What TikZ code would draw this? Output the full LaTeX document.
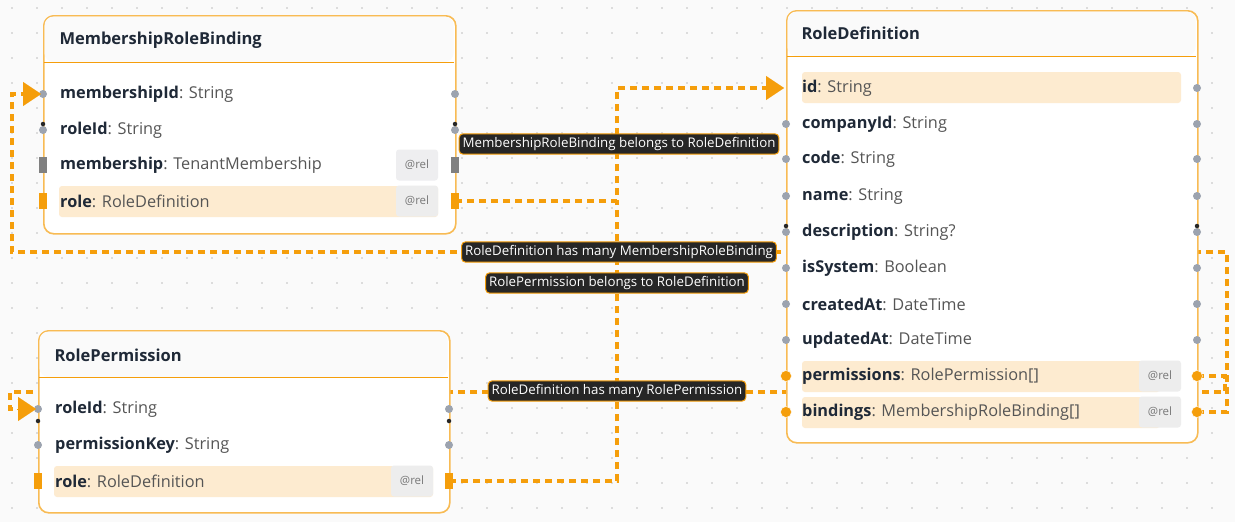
\documentclass[tikz,border=0pt]{standalone}
\usepackage{fontspec}
\setmainfont{Open Sans}
\usetikzlibrary{arrows.meta}
\definecolor{org}{HTML}{F59E0B}
\definecolor{hl}{HTML}{FDEBD0}
\definecolor{relbg}{HTML}{EEEEF0}
\definecolor{port}{HTML}{9CA3AF}
\definecolor{txt}{HTML}{1F2937}
\definecolor{typ}{HTML}{555555}
\definecolor{lab}{HTML}{262626}
\tikzset{
 x=1pt,y=-1pt,
 box/.style={draw=org!70,line width=1.6pt,rounded corners=10pt,fill=white},
 hdr/.style={font=\fontsize{16.5}{16}\selectfont\bfseries,text=txt,anchor=west},
 fld/.style={font=\fontsize{16.3}{16}\selectfont,text=typ,anchor=west,inner sep=0pt},
 rel/.style={fill=relbg,rounded corners=3pt,minimum width=42pt,minimum height=31pt,font=\fontsize{11.5}{11}\selectfont,text=typ!80},
 hlrow/.style={fill=hl,rounded corners=3pt},
 pd/.style={circle,fill=port,inner sep=0pt,minimum size=8pt},
 po/.style={circle,fill=org,draw=white,inner sep=0pt,minimum size=11pt},
 pdk/.style={circle,fill=black!85,inner sep=0pt,minimum size=4.5pt},
 pr/.style={fill=gray,inner sep=0pt,minimum width=8pt,minimum height=16pt},
 prO/.style={fill=org,inner sep=0pt,minimum width=8pt,minimum height=16pt},
 edge/.style={draw=org,line width=3.4pt,dash pattern=on 7pt off 5pt},
 arr/.style={-{Triangle[length=18pt,width=24pt]}},
 lbl/.style={fill=lab,draw=org,line width=1pt,rounded corners=4pt,text=white,font=\fontsize{13.3}{13}\selectfont,inner sep=3.5pt}
}
\newcommand{\fl}[2]{\textbf{\color{txt}#1}: #2}
\begin{document}
\begin{tikzpicture}
\fill[black!2] (0,0) rectangle (1235,522);
\useasboundingbox (0,0) rectangle (1235,522);
\foreach \i in {0,...,49}{\foreach \j in {0,...,21}{\fill[black!25] (\i*25+12,\j*25+8) circle (0.9pt);}}
% coordinates
\coordinate (ja) at (617,88);
\coordinate (jb) at (617,201);
\coordinate (c1) at (1227,412);
\coordinate (c2) at (1227,252);
\coordinate (c3) at (12,252);
\coordinate (c4) at (12,94);
\coordinate (d1) at (1225,376);
\coordinate (d2) at (1225,392);
\coordinate (d3) at (10,392);
\coordinate (d4) at (10,409);
\coordinate (e1) at (617,481);
% edges (under boxes)
\draw[edge] (1197,412) -- (c1) -- (c2) -- (c3) -- (c4) -- (25,94);
\draw[edge] (1197,376) -- (d1) -- (d2) -- (d3) -- (d4) -- (20,409);
\draw[edge] (455,201) -- (jb) -- (ja) -- (770,88);
\draw[edge] (449,481) -- (e1) -- (617,201);
% boxes
\node[box,minimum width=412pt,minimum height=218pt,anchor=north west] (mrb) at (43,15) {};
\node[box,minimum width=411pt,minimum height=432pt,anchor=north west] (rd) at (786,10) {};
\node[box,minimum width=411pt,minimum height=182pt,anchor=north west] (rp) at (38,330) {};
\fill[black!2,rounded corners=9pt] (44.5,16.5) -- (453.5,16.5) -- (453.5,62) -- (44.5,62) -- cycle;
\fill[black!2,rounded corners=9pt] (787.5,11.5) -- (1195.5,11.5) -- (1195.5,56) -- (787.5,56) -- cycle;
\fill[black!2,rounded corners=9pt] (39.5,331.5) -- (447.5,331.5) -- (447.5,377) -- (39.5,377) -- cycle;
\draw[org,line width=1pt] (44,62) -- (454,62);
\draw[org,line width=1pt] (787,56) -- (1196,56);
\draw[org,line width=1pt] (39,377) -- (448,377);
\node[hdr] (h1) at (56,40) {MembershipRoleBinding};
\node[hdr] (h2) at (798,33) {RoleDefinition};
\node[hdr] (h3) at (51,355) {RolePermission};
% MRB rows
\fill[hlrow] (59,186) rectangle (438,217);
\node[rel] (r1) at (417,165) {@rel};
\node[rel,fill=black!7] (r2) at (417,201) {@rel};
\node[fld] (m1) at (60,94) {\fl{membershipId}{String}};
\node[fld] (m2) at (60,130) {\fl{roleId}{String}};
\node[fld] (m3) at (60,165) {\fl{membership}{TenantMembership}};
\node[fld] (m4) at (60,201) {\fl{role}{RoleDefinition}};
\foreach \y in {94,130}{\node[pd] at (43,\y) {};\node[pd] at (455,\y) {};}
\node[pdk] at (43,124) {};\node[pdk] at (455,124) {};
\node[pr] at (43,165) {};\node[pr] at (455,165) {};
\node[prO] at (43,201) {};\node[prO] at (455,201) {};
% RD rows
\fill[hlrow] (802,72) rectangle (1181,103);
\fill[hlrow] (802,361) rectangle (1160,392);
\fill[hlrow] (802,397) rectangle (1160,428);
\node[rel,fill=black!7] (r3) at (1160,376) {@rel};
\node[rel,fill=black!7] (r4) at (1160,412) {@rel};
\node[fld] (f1) at (802,88) {\fl{id}{String}};
\node[fld] (f2) at (802,124) {\fl{companyId}{String}};
\node[fld] (f3) at (802,159) {\fl{code}{String}};
\node[fld] (f4) at (802,196) {\fl{name}{String}};
\node[fld] (f5) at (802,232) {\fl{description}{String?}};
\node[fld] (f6) at (802,268) {\fl{isSystem}{Boolean}};
\node[fld] (f7) at (802,304) {\fl{createdAt}{DateTime}};
\node[fld] (f8) at (802,340) {\fl{updatedAt}{DateTime}};
\node[fld] (f9) at (802,376) {\fl{permissions}{RolePermission[]}};
\node[fld] (f10) at (802,412) {\fl{bindings}{MembershipRoleBinding[]}};
\foreach \y in {88,124,159,196,232,268,304,340}{\node[pd] at (1197,\y) {};}
\foreach \y in {124,159,196,232,268,304,340}{\node[pd] at (786,\y) {};}
\node[pdk] at (786,226) {};\node[pdk] at (1197,226) {};
\node[po] at (786,376) {};\node[po] at (786,412) {};
\node[po] at (1197,376) {};\node[po] at (1197,412) {};
% RP rows
\fill[hlrow] (54,466) rectangle (433,497);
\node[rel,fill=black!7] (r5) at (412,481) {@rel};
\node[fld] (p1) at (55,409) {\fl{roleId}{String}};
\node[fld] (p2) at (55,445) {\fl{permissionKey}{String}};
\node[fld] (p3) at (55,481) {\fl{role}{RoleDefinition}};
\foreach \y in {409,445}{\node[pd] at (38,\y) {};\node[pd] at (449,\y) {};}
\node[pdk] at (38,421) {};\node[pdk] at (449,421) {};
\node[prO] at (38,481) {};\node[prO] at (449,481) {};
% arrowheads
\draw[org,arr,line width=0.1pt] (22,94) -- (41,94);
\draw[org,arr,line width=0.1pt] (767,88) -- (784,88);
\draw[org,arr,line width=0.1pt] (17,409) -- (36,409);
% labels
\node[lbl] (l1) at (619,144) {MembershipRoleBinding belongs to RoleDefinition};
\node[lbl] (l2) at (619,252) {RoleDefinition has many MembershipRoleBinding};
\node[lbl] (l3) at (617,283) {RolePermission belongs to RoleDefinition};
\node[lbl] (l4) at (617,391) {RoleDefinition has many RolePermission};
\end{tikzpicture}
\end{document}
